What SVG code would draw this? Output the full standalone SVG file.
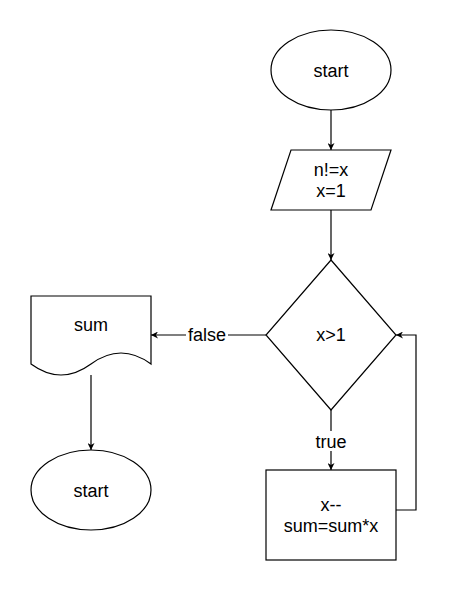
<svg xmlns="http://www.w3.org/2000/svg" width="454" height="591" viewBox="0 0 454 591">
<style>
.s{fill:#fff;stroke:#000;stroke-width:1.2}
.c{fill:none;stroke:#000;stroke-width:1.2}
text{font-family:"Liberation Sans",Arial,sans-serif;font-size:18px;fill:#000;text-anchor:middle}
.lb{fill:#fff;stroke:none}
</style>
<defs>
<marker id="a" viewBox="0 0 10 10" refX="10" refY="5" markerWidth="7" markerHeight="7" markerUnits="userSpaceOnUse" orient="auto">
<path d="M0,0 L10,5 L0,10 L3,5 Z" fill="#000"/>
</marker>
</defs>
<g id="connectors">
<path class="c" d="M331,110 V150" marker-end="url(#a)"/>
<path class="c" d="M331,210 V260" marker-end="url(#a)"/>
<path class="c" d="M266,335 H151" marker-end="url(#a)"/>
<rect class="lb" x="186" y="325" width="42" height="20"/>
<text x="207" y="341">false</text>
<path class="c" d="M331,410 V470" marker-end="url(#a)"/>
<rect class="lb" x="313" y="431" width="36" height="20"/>
<text x="331" y="447.5">true</text>
<path class="c" d="M396,510 H416 V335 H396" marker-end="url(#a)"/>
<path class="c" d="M91,375 V450" marker-end="url(#a)"/>
</g>
<g id="start1">
<ellipse class="s" cx="331" cy="70" rx="60" ry="40"/>
<text x="331" y="76.5">start</text>
</g>
<g id="input">
<polygon class="s" points="291,150 391,150 371,210 271,210"/>
<text x="331" y="175.5">n!=x</text>
<text x="331" y="197">x=1</text>
</g>
<g id="decision">
<polygon class="s" points="331,260 396,335 331,410 266,335"/>
<text x="331" y="341">x&gt;1</text>
</g>
<g id="process">
<rect class="s" x="266" y="470" width="130" height="90"/>
<text x="331" y="510.5">x--</text>
<text x="331" y="532">sum=sum*x</text>
</g>
<g id="output">
<path class="s" d="M31,296 H151 V364 Q121,342 91,364 Q61,386 31,364 Z"/>
<text x="91" y="331">sum</text>
</g>
<g id="start2">
<ellipse class="s" cx="91" cy="490" rx="60" ry="40"/>
<text x="91" y="496.5">start</text>
</g>
</svg>
